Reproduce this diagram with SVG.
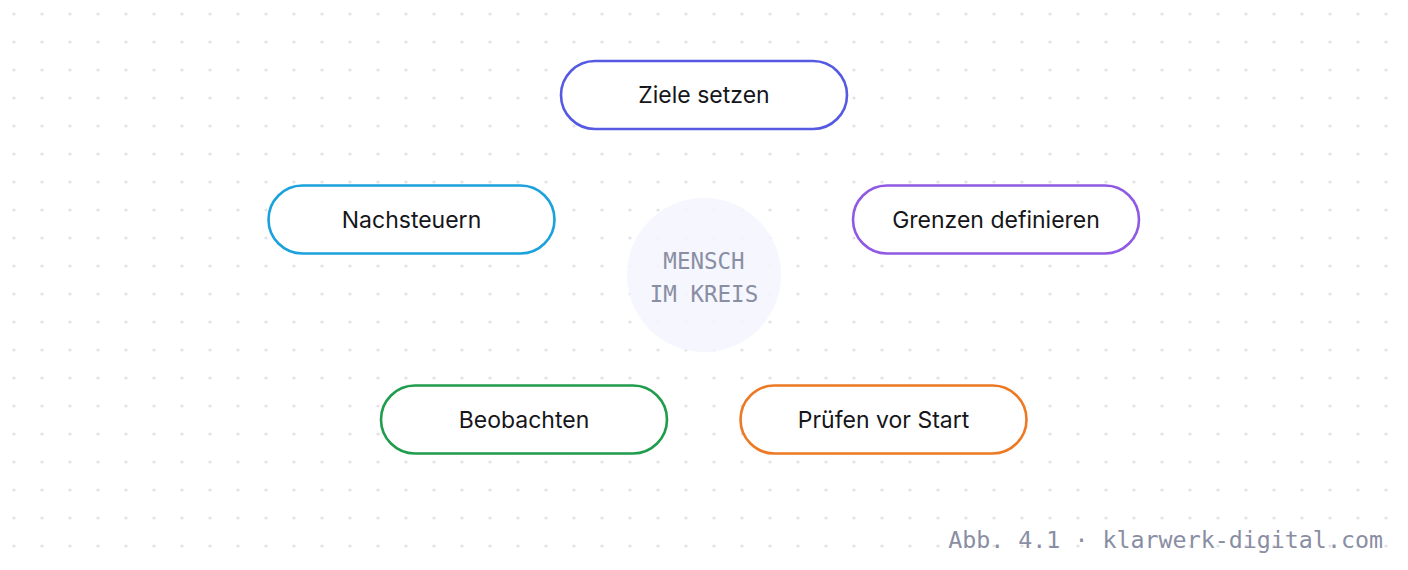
<svg xmlns="http://www.w3.org/2000/svg" width="1408" height="570" viewBox="0 0 1408 570">
<defs>
<pattern id="dots" x="0" y="0" width="28" height="28" patternUnits="userSpaceOnUse">
<circle cx="14" cy="14" r="1.6" fill="#e2e2e6"/>
</pattern>
<style>
.pill{fill:#ffffff;stroke-width:2.6}
.lbl{font-family:Inter,"Liberation Sans",sans-serif;font-size:23px;fill:#16161a;text-anchor:middle;dominant-baseline:central}
.mono{font-family:"DejaVu Sans Mono","Liberation Mono",monospace;font-size:22.5px;fill:#8a8ea3}
</style>
</defs>
<rect width="1408" height="570" fill="#ffffff"/>
<rect width="1408" height="570" fill="url(#dots)"/>
<g id="center">
<circle cx="704" cy="275" r="77" fill="#f3f4fe" fill-opacity="0.85"/>
<text class="mono" x="704" y="269" text-anchor="middle">MENSCH</text>
<text class="mono" x="704" y="302" text-anchor="middle">IM KREIS</text>
</g>
<g id="connectors"></g>
<g id="node-ziele">
<rect class="pill" x="561" y="61" width="286" height="68" rx="34" stroke="#5659e2"/>
<text class="lbl" x="704" y="95">Ziele setzen</text>
</g>
<g id="node-nachsteuern">
<rect class="pill" x="268.5" y="185.5" width="286" height="68" rx="34" stroke="#1ba1db"/>
<text class="lbl" x="411.5" y="219.5">Nachsteuern</text>
</g>
<g id="node-grenzen">
<rect class="pill" x="853" y="185.5" width="286" height="68" rx="34" stroke="#9059e3"/>
<text class="lbl" x="996" y="219.5">Grenzen definieren</text>
</g>
<g id="node-beobachten">
<rect class="pill" x="381" y="385.5" width="286" height="68" rx="34" stroke="#1f9c4c"/>
<text class="lbl" x="524" y="419.5">Beobachten</text>
</g>
<g id="node-pruefen">
<rect class="pill" x="740.5" y="385.5" width="286" height="68" rx="34" stroke="#ec7924"/>
<text class="lbl" x="883.5" y="419.5">Prüfen vor Start</text>
</g>
<text class="mono" x="1383" y="548" text-anchor="end" style="font-size:23.3px">Abb. 4.1 · klarwerk-digital.com</text>
</svg>
